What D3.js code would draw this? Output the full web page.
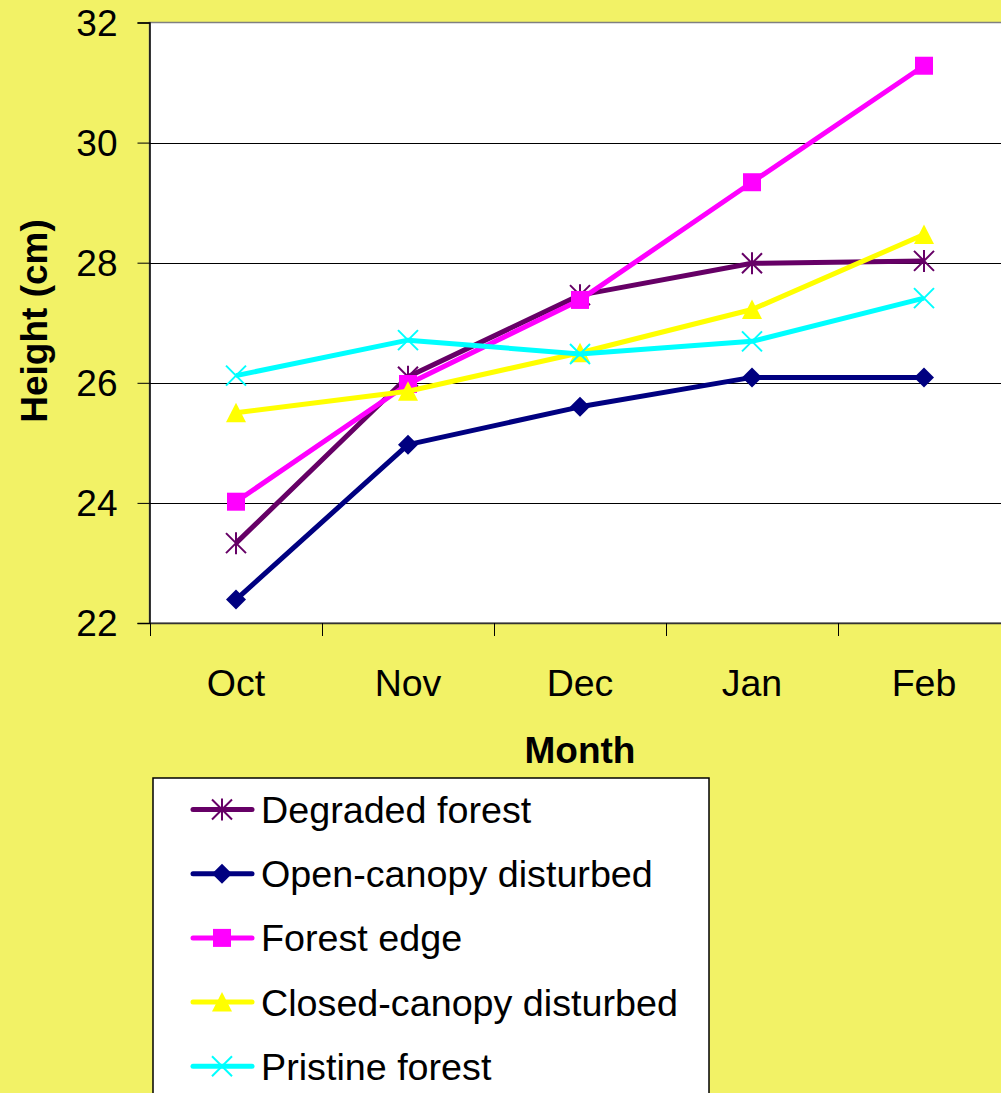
<!DOCTYPE html>
<html>
<head>
<meta charset="utf-8">
<script src="https://cdn.jsdelivr.net/npm/d3@7"></script>
<style>
  html, body { margin: 0; padding: 0; background: #F2F266; }
  svg { display: block; font-family: "Liberation Sans", Arial, sans-serif; }
</style>
</head>
<body>
<svg id="chart" width="1001" height="1093"></svg>
<script>
// Monthly mean plant height by habitat type
const months = ["Oct", "Nov", "Dec", "Jan", "Feb"];
const degradedForest = [23.33, 26.10, 27.46, 27.99, 28.03];
const openCanopyDisturbed = [22.39, 24.97, 25.60, 26.09, 26.09];
const forestEdge = [24.02, 25.98, 27.38, 29.34, 31.28];
const closedCanopyDisturbed = [25.50, 25.86, 26.50, 27.22, 28.47];
const pristineForest = [26.12, 26.71, 26.48, 26.69, 27.41];
const yTicks = [22, 24, 26, 28, 30, 32];

const seriesList = [
  { name: "Degraded forest", values: degradedForest, color: "#660066", marker: "asterisk" },
  { name: "Open-canopy disturbed", values: openCanopyDisturbed, color: "#000080", marker: "diamond" },
  { name: "Forest edge", values: forestEdge, color: "#FF00FF", marker: "square" },
  { name: "Closed-canopy disturbed", values: closedCanopyDisturbed, color: "#FFFF00", marker: "triangle" },
  { name: "Pristine forest", values: pristineForest, color: "#00FFFF", marker: "cross" }
];

const svg = d3.select("#chart");
const plot = { left: 149.5, right: 1010, top: 22.5, bottom: 623 };

const x = d3.scaleBand().domain(months).range([150, 1010]);
const xc = m => x(m) + x.bandwidth() / 2;
const y = d3.scaleLinear().domain([22, 32]).range([plot.bottom, plot.top]);

// background
svg.append("rect").attr("width", 1001).attr("height", 1093).attr("fill", "#F2F266");

// plot area
svg.append("rect")
  .attr("x", plot.left).attr("y", plot.top)
  .attr("width", plot.right - plot.left).attr("height", plot.bottom - plot.top)
  .attr("fill", "#ffffff").attr("stroke", "#808080").attr("stroke-width", 1.5);

// horizontal gridlines
svg.append("g")
  .selectAll("line")
  .data(yTicks.filter(t => t > 22 && t < 32))
  .join("line")
  .attr("x1", plot.left).attr("x2", plot.right)
  .attr("y1", d => Math.round(y(d)) + 0.5).attr("y2", d => Math.round(y(d)) + 0.5)
  .attr("stroke", "#000").attr("stroke-width", 1);

// y axis
const yAxis = d3.axisLeft(y).tickValues(yTicks).tickSize(12).tickPadding(20).tickFormat(d3.format("d"));
const gy = svg.append("g").attr("transform", `translate(${plot.left},0)`).call(yAxis);
gy.select(".domain").attr("stroke", "#000").attr("stroke-width", 1.5);
gy.selectAll(".tick line").attr("stroke", "#000");
gy.selectAll(".tick text")
  .attr("font-size", 37).attr("fill", "#000")
  .attr("font-family", "'Liberation Sans', Arial, sans-serif")
  .attr("dy", "0.35em");

// x axis with ticks at category boundaries
const xAxis = d3.axisBottom(x).tickSize(0).tickPadding(0);
const gx = svg.append("g").attr("transform", `translate(0,${plot.bottom})`).call(xAxis);
gx.select(".domain").attr("stroke", "#333").attr("stroke-width", 1.5);
gx.selectAll(".tick text")
  .attr("font-size", 37.5).attr("fill", "#000")
  .attr("font-family", "'Liberation Sans', Arial, sans-serif")
  .attr("y", 73).attr("dy", 0);
const boundaries = months.map(m => x(m)).concat([x(months[months.length - 1]) + x.bandwidth()]);
gx.append("g").selectAll("line")
  .data(boundaries)
  .join("line")
  .attr("x1", d => Math.round(d) + 0.5).attr("x2", d => Math.round(d) + 0.5)
  .attr("y1", 0).attr("y2", 13)
  .attr("stroke", "#000").attr("stroke-width", 1);

// axis titles
svg.append("text")
  .attr("x", 580).attr("y", 763)
  .attr("text-anchor", "middle")
  .attr("font-size", 37).attr("font-weight", "bold")
  .text("Month");

svg.append("text")
  .attr("transform", "translate(47,321) rotate(-90)")
  .attr("text-anchor", "middle")
  .attr("font-size", 37).attr("font-weight", "bold")
  .text("Height (cm)");

// marker drawing
function drawMarker(g, type, color) {
  if (type === "asterisk") {
    const r = 10;
    g.append("path")
      .attr("d", `M${-r},${-r}L${r},${r}M${-r},${r}L${r},${-r}M0,${-r - 1}L0,${r + 1}`)
      .attr("stroke", color).attr("stroke-width", 2).attr("fill", "none");
  } else if (type === "diamond") {
    const r = 10;
    g.append("path")
      .attr("d", `M0,${-r}L${r},0L0,${r}L${-r},0Z`)
      .attr("fill", color);
  } else if (type === "square") {
    const s = 18;
    g.append("rect")
      .attr("x", -s / 2).attr("y", -s / 2).attr("width", s).attr("height", s)
      .attr("fill", color);
  } else if (type === "triangle") {
    g.append("path")
      .attr("d", "M0,-10L10,9.5L-10,9.5Z")
      .attr("fill", color);
  } else if (type === "cross") {
    const r = 10;
    g.append("path")
      .attr("d", `M${-r},${-r}L${r},${r}M${-r},${r}L${r},${-r}`)
      .attr("stroke", color).attr("stroke-width", 2).attr("fill", "none");
  }
}

const line = d3.line().x((d, i) => xc(months[i])).y(d => y(d));

seriesList.forEach(s => {
  const g = svg.append("g");
  g.append("path")
    .attr("d", line(s.values))
    .attr("fill", "none")
    .attr("stroke", s.color)
    .attr("stroke-width", 5)
    .attr("stroke-linejoin", "round");
  s.values.forEach((v, i) => {
    const mg = g.append("g").attr("transform", `translate(${xc(months[i])},${y(v)})`);
    drawMarker(mg, s.marker, s.color);
  });
});

// legend
const legend = svg.append("g");
legend.append("rect")
  .attr("x", 153).attr("y", 778)
  .attr("width", 556).attr("height", 340)
  .attr("fill", "#ffffff").attr("stroke", "#000").attr("stroke-width", 1.5);

seriesList.forEach((s, i) => {
  const cy = 809.5 + i * 64.2;
  const row = legend.append("g");
  row.append("line")
    .attr("x1", 193).attr("x2", 252)
    .attr("y1", cy).attr("y2", cy)
    .attr("stroke", s.color).attr("stroke-width", 5).attr("stroke-linecap", "round");
  const mg = row.append("g").attr("transform", `translate(222,${cy})`);
  drawMarker(mg, s.marker, s.color);
  row.append("text")
    .attr("x", 261).attr("y", cy + 13.5)
    .attr("font-size", 37.7).attr("fill", "#000")
    .text(s.name);
});
</script>
</body>
</html>
